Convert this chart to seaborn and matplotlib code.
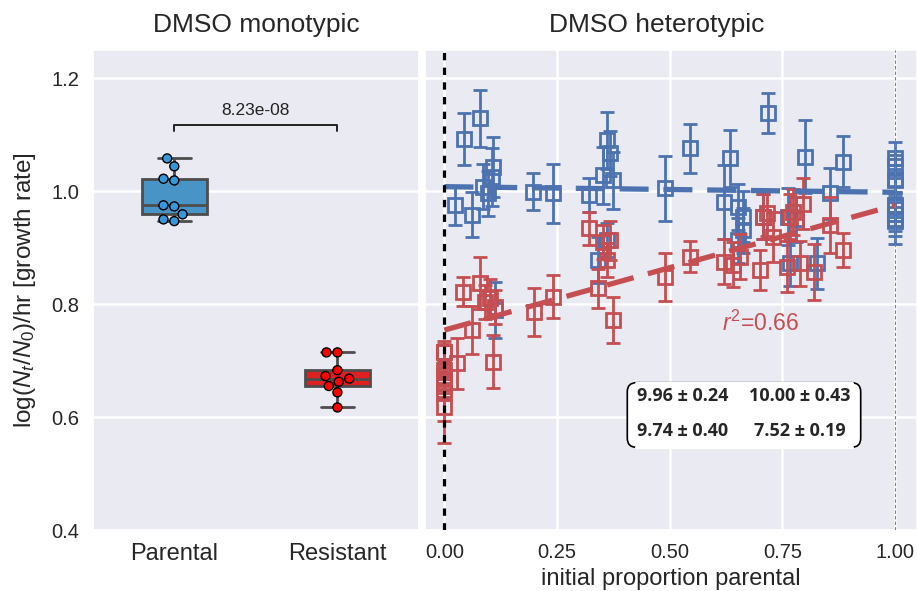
import numpy as np
import pandas as pd
import matplotlib
matplotlib.use("Agg")
import matplotlib.pyplot as plt
import seaborn as sns
from matplotlib.patches import FancyBboxPatch
from matplotlib.lines import Line2D
from matplotlib.transforms import IdentityTransform

# ---- monotypic growth rates ----
groups = ["Parental", "Resistant"]
parental_mono = [1.058, 1.044, 1.019, 1.022, 0.975, 0.973, 0.959, 0.950, 0.947]
resistant_mono = [0.7145, 0.7145, 0.683, 0.6726, 0.668, 0.6625, 0.655, 0.6437, 0.617]
p_value_label = "8.23e-08"

# ---- heterotypic co-cultures: initial parental fraction, growth rate, error ----
par_prop = [0.024, 0.043, 0.061, 0.079, 0.086, 0.097, 0.105, 0.109, 0.112, 0.197,
            0.242, 0.320, 0.342, 0.353, 0.360, 0.360, 0.368, 0.375, 0.490, 0.545,
            0.620, 0.634, 0.652, 0.652, 0.663, 0.663, 0.708, 0.719, 0.763, 0.767,
            0.780, 0.800, 0.826, 0.856, 0.885,
            1.0, 1.0, 1.0, 1.0, 1.0, 1.0, 1.0, 1.0, 1.0]
par_rate = [0.975, 1.093, 0.958, 1.129, 1.008, 0.996, 1.025, 1.043, 0.790, 0.999,
            0.996, 0.993, 0.878, 1.028, 1.090, 0.913, 1.067, 1.019, 1.005, 1.076,
            0.981, 1.058, 0.972, 0.913, 0.955, 0.931, 0.955, 1.138, 0.955, 0.872,
            0.950, 1.061, 0.872, 0.996, 1.052,
            1.058, 1.044, 1.019, 1.022, 0.975, 0.973, 0.959, 0.950, 0.947]
par_err = [0.035, 0.046, 0.040, 0.050, 0.040, 0.040, 0.052, 0.053, 0.050, 0.033,
           0.053, 0.030, 0.040, 0.050, 0.050, 0.030, 0.040, 0.050, 0.057, 0.043,
           0.065, 0.050, 0.040, 0.040, 0.045, 0.040, 0.040, 0.035, 0.050, 0.040,
           0.040, 0.065, 0.045, 0.045, 0.045,
           0.029, 0.020, 0.020, 0.025, 0.020, 0.025, 0.030, 0.030, 0.040]

res_prop = [0.0, 0.0, 0.0, 0.0, 0.0, 0.0, 0.0, 0.0, 0.0,
            0.027, 0.042, 0.061, 0.079, 0.090, 0.101, 0.109, 0.113, 0.198, 0.242,
            0.320, 0.342, 0.353, 0.360, 0.368, 0.375, 0.490, 0.545, 0.620, 0.641,
            0.656, 0.700, 0.708, 0.715, 0.730, 0.760, 0.767, 0.774, 0.790, 0.797,
            0.820, 0.856, 0.885]
res_rate = [0.7145, 0.7145, 0.683, 0.6726, 0.668, 0.6625, 0.655, 0.6437, 0.617,
            0.695, 0.822, 0.754, 0.837, 0.804, 0.810, 0.698, 0.795, 0.786, 0.813,
            0.934, 0.828, 0.910, 0.878, 0.913, 0.772, 0.848, 0.884, 0.875, 0.870,
            0.884, 0.860, 0.955, 0.961, 0.919, 0.866, 0.955, 0.963, 0.872, 0.978,
            0.857, 0.940, 0.896]
res_err = [0.020, 0.015, 0.015, 0.015, 0.020, 0.015, 0.020, 0.050, 0.063,
           0.045, 0.026, 0.043, 0.046, 0.030, 0.035, 0.047, 0.030, 0.043, 0.038,
           0.030, 0.035, 0.030, 0.030, 0.035, 0.040, 0.043, 0.028, 0.040, 0.040,
           0.040, 0.035, 0.040, 0.040, 0.045, 0.045, 0.040, 0.040, 0.040, 0.045,
           0.050, 0.050, 0.030]

# linear fits of growth rate vs. initial parental fraction
fit_prop = [0.0, 1.0]
par_fit = [1.008, 0.998]
res_fit = [0.754, 0.975]
r2_label = "$r^2$=0.66"

# yield summary (mean ± sd)
yield_rows = [["9.96 ± 0.24", "10.00 ± 0.43"],
              ["9.74 ± 0.40", "7.52 ± 0.19"]]

# ---- style ----
sns.set_theme(style="darkgrid", rc={"grid.linewidth": 1.8})
plt.rcParams["font.family"] = ["Liberation Sans", "DejaVu Sans"]
plt.rcParams["mathtext.fontset"] = "custom"
plt.rcParams["mathtext.rm"] = "Liberation Sans"
plt.rcParams["mathtext.it"] = "Liberation Sans:italic"

BLUE = "#4c72b0"
RED = "#c44e52"
W, H = 917, 591
fig = plt.figure(figsize=(W / 100, H / 100), dpi=100)

def px_axes(x0, x1, ytop, ybot):
    return fig.add_axes([x0 / W, (H - ybot) / H, (x1 - x0) / W, (ybot - ytop) / H])

ax1 = px_axes(92.7, 419, 50, 530)
ax2 = px_axes(425, 917, 50, 530)

# ---- left panel: monotypic box + swarm ----
mono = pd.DataFrame({
    "group": [groups[0]] * len(parental_mono) + [groups[1]] * len(resistant_mono),
    "rate": parental_mono + resistant_mono,
})
pal = {"Parental": "#3498db", "Resistant": "red"}
sns.boxplot(data=mono, x="group", y="rate", hue="group", palette=pal, width=0.4,
            linecolor="#4d4d4d", linewidth=2, fliersize=0, legend=False, ax=ax1)
sns.swarmplot(data=mono, x="group", y="rate", hue="group", palette=pal, size=6.5,
              edgecolor="black", linewidth=1, legend=False, ax=ax1, zorder=5)

ax1.set_ylim(0.4, 1.25)
ax1.set_xlim(-0.5, 1.5)
ax1.set_yticks([0.4, 0.6, 0.8, 1.0, 1.2])
ax1.set_xlabel("")
ax1.set_ylabel("log($N_t/N_0$)/hr [growth rate]", fontsize=17.5, labelpad=10)
ax1.tick_params(axis="x", labelsize=17)
ax1.tick_params(axis="y", labelsize=14.5)
ax1.set_title("DMSO monotypic", fontsize=19, pad=13)

# significance bracket
y_br, h_br = 1.118, 0.012
ax1.plot([0, 0, 1, 1], [y_br - h_br, y_br, y_br, y_br - h_br], color="#222222", lw=1.4)
ax1.text(0.5, y_br + 0.011, p_value_label, ha="center", va="bottom", fontsize=12.5,
         color="#222222")

# ---- right panel: heterotypic ----
eb_kw = dict(fmt="s", mfc="none", ms=10, mew=2, elinewidth=2, capsize=5,
             capthick=2)
ax2.errorbar(par_prop, par_rate, yerr=par_err, color=BLUE, ecolor=BLUE, mec=BLUE,
             zorder=3, **eb_kw)
ax2.errorbar(res_prop, res_rate, yerr=res_err, color=RED, ecolor=RED, mec=RED,
             zorder=4, **eb_kw)

ax2.plot(fit_prop, par_fit, color=BLUE, lw=3.8, dashes=(5.5, 2.8), zorder=5)
ax2.plot(fit_prop, res_fit, color=RED, lw=3.8, dashes=(5.2, 2.8), zorder=5)

ax2.axvline(0.0, color="black", lw=2.3, dashes=(2.3, 2.3), zorder=6)
ax2.axvline(1.0, color="grey", lw=0.8, dashes=(3, 2), zorder=6)

ax2.set_xlim(-0.043, 1.049)
ax2.set_ylim(0.4, 1.25)
ax2.set_yticks([0.4, 0.6, 0.8, 1.0, 1.2])
ax2.set_xticks([0.0, 0.25, 0.5, 0.75, 1.0])
ax2.set_xticklabels(["0.00", "0.25", "0.50", "0.75", "1.00"])
ax2.tick_params(axis="y", labelleft=False)
ax2.tick_params(axis="x", labelsize=14.5)
ax2.set_xlabel("initial proportion parental", fontsize=17)
ax2.set_title("DMSO heterotypic", fontsize=19, pad=13, x=0.4715)

ax2.text(0.616, 0.766, r2_label, color=RED, fontsize=16.5, ha="left", va="center")

# yield summary box (drawn in pixel coordinates)
bx0, by0, bw, bh, rad = 627.3, H - 447.3, 233.4, 64.6, 9
box = FancyBboxPatch((bx0, by0), bw, bh, boxstyle=f"round,pad=0,rounding_size={rad}",
                     transform=IdentityTransform(), facecolor="white",
                     edgecolor="black", lw=1.2, zorder=10)
fig.patches.append(box)
for yy in (by0, by0 + bh):
    fig.lines.append(Line2D([bx0 + rad, bx0 + bw - rad], [yy, yy], color="white",
                            lw=2.2, transform=IdentityTransform(), zorder=11))

col_x = [683, 800]
row_y = [396, 430.7]
for r, row in enumerate(yield_rows):
    for c, txt in enumerate(row):
        fig.text(col_x[c] / W, (H - row_y[r]) / H, txt, ha="center", va="center",
                 fontsize=13, fontweight="bold", family=["Open Sans", "DejaVu Sans"],
                 zorder=12)

fig.savefig("out.png", dpi=100)
